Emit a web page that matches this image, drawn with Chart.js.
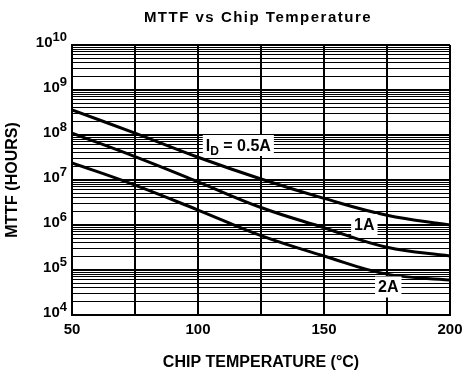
<!DOCTYPE html>
<html>
<head>
<meta charset="utf-8">
<script src="https://cdn.jsdelivr.net/npm/chart.js@4/dist/chart.umd.min.js"></script>
<style>
  html, body { margin: 0; padding: 0; background: #fff; }
  #wrap { width: 464px; height: 372px; }
</style>
</head>
<body>
<div id="wrap"><canvas id="mttfChart"></canvas></div>
<script>
// values
const temps = [50, 75, 100, 125, 150, 175, 200];
const mttf05A = [3.6e8, 1.1e8, 3.2e7, 1.05e7, 3.9e6, 1.65e6, 1.0e6];
const mttf1A = [1.1e8, 3.3e7, 9.1e6, 2.45e6, 8.7e5, 3.2e5, 2.05e5];
const mttf2A = [2.4e7, 7.7e6, 2.15e6, 5.8e5, 2.05e5, 8.1e4, 6.0e4];

const xTickLabels = ["50", "", "100", "", "150", "", "200"];
const yExponents = [4, 5, 6, 7, 8, 9, 10];
const yMinorSteps = [2, 3, 4, 5, 6, 7, 8, 9];

// curve labels, placed in data units
const labelTexts = ["I_D = 0.5A", "1A", "2A"];
const labelTemps = [116, 166, 175.5];
const labelMttf = [6e7, 1.05e6, 4.3e4];

const FONT = "'Liberation Sans', Arial, sans-serif";

function points(ys) {
  return temps.map((t, i) => ({ x: t, y: ys[i] }));
}

function curve(ys) {
  return {
    data: points(ys),
    borderColor: "#000",
    borderWidth: 3,
    pointRadius: 0,
    fill: false,
    tension: 0.4
  };
}

/* ===== LABEL DRAWING ===== */
function drawLabel(ctx, text, cx, cy) {
  let parts = [];
  if (text.indexOf("_") > 0) {
    let m = text.split("_");
    parts.push({ t: m[0], sub: false });
    parts.push({ t: m[1].charAt(0), sub: true });
    parts.push({ t: m[1].slice(1), sub: false });
  } else {
    parts.push({ t: text, sub: false });
  }
  let w = 0;
  parts.forEach(p => {
    ctx.font = (p.sub ? "bold 12px " : "bold 16px ") + FONT;
    p.w = ctx.measureText(p.t).width;
    w += p.w;
  });
  ctx.fillStyle = "#fff";
  ctx.fillRect(cx - w / 2 - 3, cy - 10, w + 6, 21);
  ctx.fillStyle = "#000";
  ctx.textAlign = "left";
  ctx.textBaseline = "alphabetic";
  let x = cx - w / 2;
  parts.forEach(p => {
    ctx.font = (p.sub ? "bold 12px " : "bold 16px ") + FONT;
    ctx.fillText(p.t, x, cy + (p.sub ? 10 : 6));
    x += p.w;
  });
}

const extras = {
  id: "extras",
  afterDraw(chart) {
    const ctx = chart.ctx;
    const xs = chart.scales.x;
    const ys = chart.scales.y;
    const area = chart.chartArea;
    ctx.save();

    // title
    ctx.fillStyle = "#000";
    ctx.font = "bold 15px " + FONT;
    ctx.letterSpacing = "1.5px";
    ctx.textAlign = "center";
    ctx.textBaseline = "alphabetic";
    ctx.fillText("MTTF vs Chip Temperature", (area.left + area.right) / 2 - 3, 22);
    ctx.letterSpacing = "0px";

    // y tick labels 10^n
    yExponents.forEach(e => {
      const y = ys.getPixelForValue(Math.pow(10, e));
      const exp = String(e);
      ctx.font = "bold 13px " + FONT;
      const ew = ctx.measureText(exp).width;
      ctx.textAlign = "left";
      ctx.fillText(exp, 67 - ew, y - 4);
      ctx.font = "bold 15px " + FONT;
      ctx.textAlign = "right";
      ctx.fillText("10", 67 - ew, y + 2);
    });

    // curve labels
    labelTexts.forEach((t, i) => {
      drawLabel(ctx, t, xs.getPixelForValue(labelTemps[i]), ys.getPixelForValue(labelMttf[i]));
    });
    ctx.restore();
  }
};

new Chart(document.getElementById("mttfChart"), {
  type: "line",
  data: {
    datasets: [curve(mttf05A), curve(mttf1A), curve(mttf2A)]
  },
  options: {
    responsive: true,
    maintainAspectRatio: false,
    animation: false,
    layout: { padding: { top: 45, right: 14, left: 0, bottom: 0 } },
    plugins: {
      legend: { display: false },
      tooltip: { enabled: false }
    },
    scales: {
      x: {
        type: "linear",
        min: 50,
        max: 200,
        ticks: {
          stepSize: 25,
          color: "#000",
          padding: 6,
          font: { family: FONT, size: 15, weight: "bold" },
          callback: (v, i) => xTickLabels[i]
        },
        grid: { color: "#000", lineWidth: 2, drawTicks: false },
        border: { display: true, color: "#000", width: 2 },
        title: {
          display: true,
          text: "CHIP TEMPERATURE (°C)",
          color: "#000",
          font: { family: FONT, size: 16, weight: "bold" },
          padding: { top: 0, bottom: 0 }
        },
        afterFit: s => {
          s.height = 57;
          s.paddingLeft = 0;
          s.paddingRight = 0;
        }
      },
      y: {
        type: "logarithmic",
        min: 1e4,
        max: 1e10,
        afterBuildTicks: s => {
          let ticks = [];
          yExponents.forEach(e => {
            ticks.push({ value: Math.pow(10, e), major: true });
            if (e < 10) {
              yMinorSteps.forEach(m => ticks.push({ value: m * Math.pow(10, e), major: false }));
            }
          });
          s.ticks = ticks;
        },
        ticks: { display: false, autoSkip: false },
        grid: {
          color: "#000",
          lineWidth: c => (c.tick && c.tick.major ? 2 : 1),
          drawTicks: false
        },
        border: { display: true, color: "#000", width: 2 },
        title: {
          display: true,
          text: "MTTF (HOURS)",
          color: "#000",
          font: { family: FONT, size: 16, weight: "bold" },
          padding: { top: 3, bottom: 0 }
        },
        afterFit: s => {
          s.width = 72;
          s.paddingTop = 0;
          s.paddingBottom = 0;
        }
      }
    }
  },
  plugins: [extras]
});
</script>
</body>
</html>
